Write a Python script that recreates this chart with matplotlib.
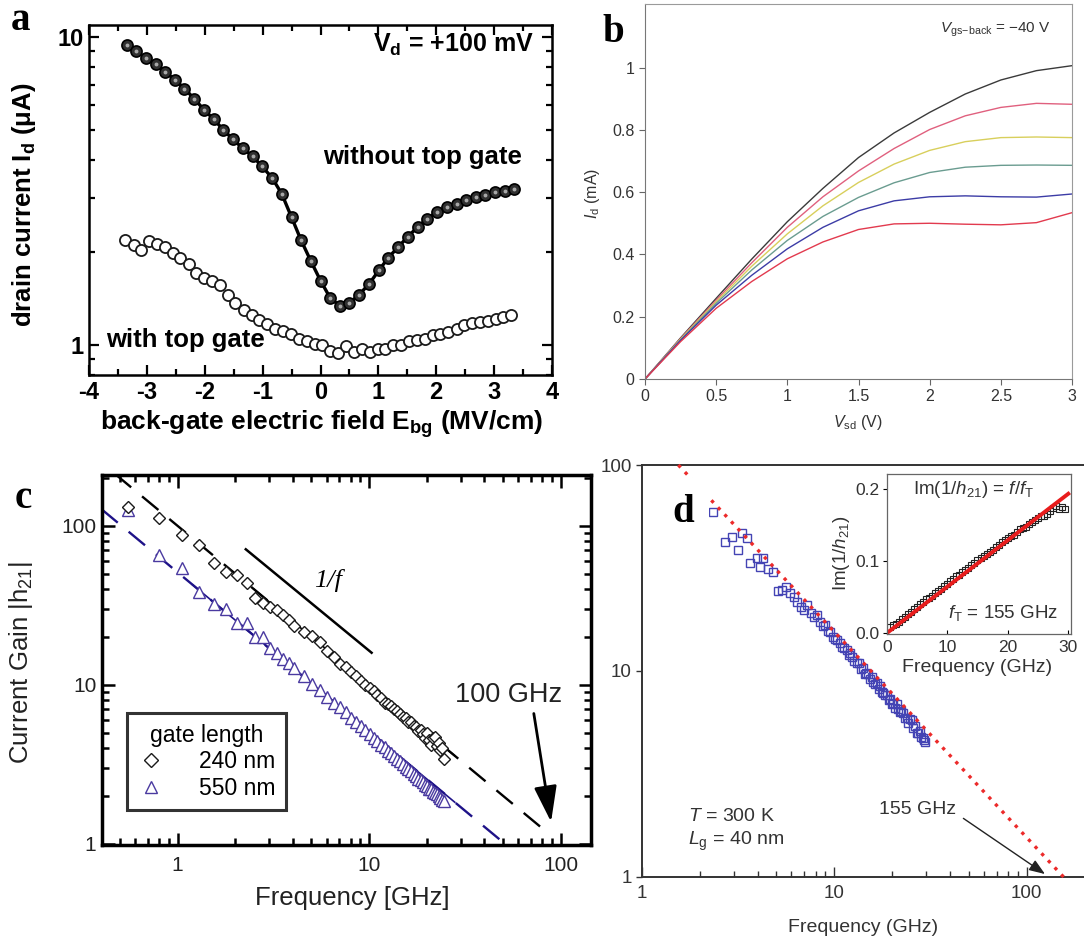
"""Four-panel figure of graphene transistor characteristics:
(a) drain current vs back-gate field, (b) output curves,
(c) and (d) current gain vs frequency with f_T extrapolation.
Saves out.png (1084 x 942 px).
"""

import matplotlib
matplotlib.use("Agg")
import matplotlib.pyplot as plt
import numpy as np
from matplotlib.lines import Line2D
from matplotlib.patches import Rectangle
from matplotlib.ticker import LogLocator, MultipleLocator, NullFormatter, NullLocator

W, H = 1084, 942

plt.rcParams.update({
    "font.family": "Liberation Sans",
    "mathtext.fontset": "custom",
    "mathtext.rm": "Liberation Sans",
    "mathtext.it": "Liberation Sans:italic",
    "mathtext.bf": "Liberation Sans:bold",
    "axes.unicode_minus": False,
})

# ---- panel a: drain current vs back-gate field ----
a_no_gate_e = [-3.35, -3.18, -3.02, -2.85, -2.68, -2.51, -2.35, -2.18, -2.01, -1.84,
               -1.68, -1.51, -1.34, -1.17, -1.01, -0.84, -0.67, -0.50, -0.34, -0.17,
               0.00, 0.17, 0.34, 0.50, 0.67, 0.84, 1.01, 1.17, 1.34, 1.51,
               1.68, 1.84, 2.01, 2.18, 2.35, 2.51, 2.68, 2.85, 3.02, 3.18, 3.35]
a_no_gate_i = [9.4, 9.0, 8.55, 8.15, 7.7, 7.25, 6.8, 6.3, 5.8, 5.4,
               5.0, 4.65, 4.35, 4.1, 3.8, 3.5, 3.1, 2.6, 2.2, 1.88,
               1.62, 1.42, 1.34, 1.37, 1.46, 1.58, 1.75, 1.92, 2.08, 2.25,
               2.42, 2.57, 2.70, 2.80, 2.88, 2.96, 3.02, 3.08, 3.13, 3.17, 3.21]

a_top_gate_e = [-3.37, -3.23, -3.10, -2.96, -2.83, -2.69, -2.55, -2.42, -2.28, -2.15,
                -2.01, -1.87, -1.74, -1.60, -1.47, -1.33, -1.19, -1.06, -0.92, -0.78,
                -0.65, -0.51, -0.38, -0.24, -0.10, 0.03, 0.17, 0.31, 0.44, 0.58,
                0.71, 0.85, 0.99, 1.12, 1.26, 1.39, 1.53, 1.67, 1.80, 1.94,
                2.07, 2.21, 2.35, 2.48, 2.62, 2.75, 2.89, 3.03, 3.16, 3.30]
a_top_gate_i = [2.19, 2.11, 2.04, 2.17, 2.13, 2.08, 1.99, 1.92, 1.84, 1.72,
                1.65, 1.61, 1.57, 1.46, 1.37, 1.30, 1.25, 1.21, 1.17, 1.13,
                1.11, 1.09, 1.05, 1.03, 1.01, 1.00, 0.96, 0.94, 0.99, 0.95,
                0.975, 0.95, 0.97, 0.975, 1.00, 1.00, 1.03, 1.04, 1.05, 1.08,
                1.09, 1.10, 1.13, 1.16, 1.18, 1.19, 1.20, 1.22, 1.23, 1.25]

# ---- panel b: output characteristics ----
b_vsd = [0, 0.25, 0.5, 0.75, 1.0, 1.25, 1.5, 1.75, 2.0, 2.25, 2.5, 2.75, 3.0]
b_id = [
    [0, 0.132, 0.259, 0.385, 0.505, 0.612, 0.711, 0.790, 0.856, 0.915, 0.960, 0.990, 1.006],
    [0, 0.130, 0.253, 0.373, 0.487, 0.585, 0.668, 0.740, 0.801, 0.845, 0.872, 0.885, 0.882],
    [0, 0.128, 0.248, 0.362, 0.466, 0.556, 0.631, 0.690, 0.734, 0.762, 0.775, 0.777, 0.775],
    [0, 0.126, 0.243, 0.350, 0.445, 0.522, 0.583, 0.630, 0.663, 0.680, 0.686, 0.687, 0.686],
    [0, 0.124, 0.237, 0.333, 0.418, 0.487, 0.540, 0.572, 0.585, 0.588, 0.585, 0.584, 0.594],
    [0, 0.120, 0.227, 0.313, 0.386, 0.440, 0.480, 0.498, 0.500, 0.497, 0.495, 0.502, 0.534],
]
b_colors = ["#3a3a3a", "#e0607e", "#d8cf5c", "#6a9c90", "#3c3ca6", "#e23a4e"]

# ---- panel c: |h21| for two gate lengths ----
c_freq = [0.55, 0.80, 1.05, 1.30, 1.55, 1.80, 2.05, 2.30, 2.55, 2.80,
          3.05, 3.30, 3.55, 3.80, 4.05, 4.55, 5.05, 5.55, 6.05, 6.55,
          7.05, 7.55, 8.05, 8.55, 9.05, 9.55, 10.05, 10.55, 11.05, 11.55,
          12.05, 12.55, 13.05, 13.55, 14.05, 14.55, 15.05, 15.55, 16.05, 16.55,
          17.05, 17.55, 18.05, 18.55, 19.05, 19.55, 20.05, 20.55, 21.05, 21.55,
          22.05, 22.55, 23.05, 23.55, 24.05, 24.55]
c_gain_240 = [131, 112, 87.6, 75.8, 58.1, 51.5, 49.1, 43.5, 35.0, 32.5,
              31.0, 29.5, 27.4, 25.6, 23.5, 21.6, 20.3, 18.6, 16.4, 15.0,
              13.5, 13.0, 12.0, 11.4, 10.6, 9.9, 9.5, 9.1, 8.6, 8.3,
              7.7, 7.6, 7.4, 7.0, 6.8, 6.5, 6.3, 6.2, 5.8, 5.8,
              5.5, 5.4, 5.1, 5.2, 4.9, 4.6, 4.95, 4.5, 4.2, 4.6,
              4.7, 4.1, 4.3, 3.9, 4.0, 3.4]
c_gain_550 = [126, 65.6, 54, 38.5, 32.1, 29.8, 24.3, 24.3, 20.0, 20.0,
              17.0, 15.8, 14.6, 13.7, 12.8, 11.3, 10.1, 9.2, 8.4, 7.7,
              7.2, 6.7, 6.2, 5.85, 5.5, 5.2, 4.9, 4.65, 4.4, 4.2,
              4.05, 3.85, 3.7, 3.55, 3.4, 3.3, 3.15, 3.05, 2.95, 2.85,
              2.75, 2.68, 2.55, 2.5, 2.45, 2.35, 2.3, 2.22, 2.2, 2.12,
              2.08, 2.05, 1.98, 1.95, 1.88, 1.85]
c_ft_240 = 100   # GHz, extrapolated unity-gain frequency
c_ft_550 = 51
c_fit_span_240 = [0.47, 80]
c_fit_span_550 = [0.40, 52]
c_slope_f = [2.27, 10.3]
c_slope_g = [71.2, 15.9]

# ---- panel d: |h21| of the 40 nm device and Im(1/h21) inset ----
d_freq = [2.36, 2.71, 2.93, 3.17, 3.31, 3.51, 3.65, 3.96, 4.12, 4.28,
          4.54, 4.83, 5.12, 5.34, 5.60, 5.89, 6.15, 6.39, 6.70, 7.00,
          7.20, 7.55, 7.85, 8.11, 8.40, 8.70, 8.96, 9.25, 9.51, 9.80,
          10.1, 10.4, 10.7, 11.0, 11.3, 11.6, 11.9, 12.1, 12.4, 12.7,
          13.1, 13.4, 13.7, 14.1, 14.4, 14.7, 15.0, 15.4, 15.7, 16.0,
          16.3, 16.6, 17.0, 17.3, 17.7, 18.0, 18.4, 18.8, 19.2, 19.6,
          20.0, 20.3, 20.7, 21.1, 21.5, 21.9, 22.3, 22.9, 23.3, 23.8,
          24.3, 24.8, 25.3, 25.8, 26.3, 26.8, 27.3, 27.8, 28.3, 28.8,
          29.2, 29.6]
d_gain = [59.4, 42.4, 44.9, 38.7, 46.6, 44.1, 33.3, 35.2, 32.1, 35.2,
          31.4, 30.3, 24.3, 24.6, 25.5, 23.8, 22.8, 21.7, 20.5, 19.8,
          20.9, 19.0, 18.2, 18.7, 17.3, 16.5, 16.7, 15.6, 15.5, 14.6,
          14.3, 14.1, 13.6, 13.0, 12.9, 12.6, 12.0, 12.2, 11.7, 11.2,
          10.9, 10.9, 10.2, 10.3, 9.7, 9.73, 9.6, 9.1, 9.3, 8.8,
          8.6, 8.7, 8.2, 8.4, 7.9, 7.78, 7.6, 7.6, 7.2, 7.3,
          6.9, 6.96, 6.6, 6.9, 6.5, 6.3, 6.4, 6.22, 5.9, 5.9,
          5.6, 5.85, 5.77, 5.3, 5.4, 5.0, 4.98, 5.1, 4.75, 4.7,
          4.6, 4.53]
d_ft = 155  # GHz
d_fit_span = [1.55, 163]

inset_freq = [0.5, 1.0, 1.5, 2.0, 2.5, 3.0, 3.5, 4.0, 4.5, 5.0,
              5.5, 6.0, 6.5, 7.0, 7.5, 8.0, 8.5, 9.0, 9.5, 10.0,
              10.5, 11.0, 11.5, 12.0, 12.5, 13.0, 13.5, 14.0, 14.5, 15.0,
              15.5, 16.0, 16.5, 17.0, 17.5, 18.0, 18.5, 19.0, 19.5, 20.0,
              20.5, 21.0, 21.5, 22.0, 22.5, 23.0, 23.5, 24.0, 24.5, 25.0,
              25.5, 26.0, 26.5, 27.0, 27.5, 28.0, 28.5, 29.0, 29.5]
inset_im = [0.008, 0.011, 0.013, 0.016, 0.020, 0.023, 0.026, 0.030, 0.033, 0.036,
            0.040, 0.043, 0.047, 0.049, 0.052, 0.056, 0.059, 0.062, 0.066, 0.069,
            0.072, 0.075, 0.079, 0.081, 0.085, 0.088, 0.091, 0.095, 0.097, 0.101,
            0.104, 0.107, 0.110, 0.113, 0.116, 0.119, 0.122, 0.126, 0.129, 0.132,
            0.135, 0.137, 0.140, 0.144, 0.146, 0.148, 0.151, 0.154, 0.157, 0.160,
            0.163, 0.163, 0.166, 0.170, 0.174, 0.176, 0.173, 0.175, 0.172]
inset_fit_span = [0, 30]


def box(left, right, top, bottom):
    """Axes rectangle from pixel edges (origin top-left)."""
    return [left / W, 1 - bottom / H, (right - left) / W, (bottom - top) / H]


def ftext(x, y, s, **kw):
    return fig.text(x / W, 1 - y / H, s, **kw)


fig = plt.figure(figsize=(W / 100, H / 100), dpi=100)

# ----------------------------------------------------------------- panel a
ax = fig.add_axes(box(89, 552, 25, 375))
ax.plot(a_top_gate_e, a_top_gate_i, "o", ms=8.0, mfc="white", mec="#1a1a1a", mew=1.3)
ax.plot(a_no_gate_e, a_no_gate_i, "-", color="black", lw=2.4)
ax.plot(a_no_gate_e, a_no_gate_i, "o", ms=8.0, mfc="#303030", mec="black", mew=1.2)
ax.plot(a_no_gate_e, a_no_gate_i, "o", ms=2.8, mfc="#a8a8a8", mec="none")
ax.set_yscale("log")
ax.set_xlim(-4, 4)
ax.set_ylim(0.8, 10.94)
ax.xaxis.set_major_locator(MultipleLocator(1))
ax.xaxis.set_minor_locator(MultipleLocator(0.5))
ax.set_yticks([1, 10], ["1", "10"])
ax.yaxis.set_minor_locator(LogLocator(subs=np.arange(2, 10)))
ax.yaxis.set_minor_formatter(NullFormatter())
ax.tick_params(which="both", direction="in", top=True, right=True, width=1.6,
               labelsize=17)
ax.tick_params(which="major", length=7)
ax.tick_params(which="minor", length=4)
ax.tick_params(axis="x", pad=4)
ax.tick_params(axis="y", pad=4)
for lbl in ax.get_xticklabels() + ax.get_yticklabels():
    lbl.set_fontweight("bold")
for sp in ax.spines.values():
    sp.set_linewidth(1.8)
ax.text(0.96, 0.943, r"V$_\mathbf{d}$ = +100 mV", transform=ax.transAxes,
        ha="right", va="center", fontsize=18, fontweight="bold")
ax.text(0.72, 0.623, "without top gate", transform=ax.transAxes,
        ha="center", va="center", fontsize=18.5, fontweight="bold")
ax.text(0.036, 0.10, "with top gate", transform=ax.transAxes,
        ha="left", va="center", fontsize=18.5, fontweight="bold")
ftext(24, 205, r"drain current I$_\mathbf{d}$ (μA)", rotation=90,
      ha="center", va="center", fontsize=18.5, fontweight="bold")
ftext(322, 424, r"back-gate electric field E$_\mathbf{bg}$ (MV/cm)",
      ha="center", va="center", fontsize=19, fontweight="bold")

# ----------------------------------------------------------------- panel b
ax = fig.add_axes(box(645, 1072, 4, 379))
for curve, col in zip(b_id, b_colors):
    ax.plot(b_vsd, curve, color=col, lw=1.0)
ax.set_xlim(0, 3)
ax.set_ylim(0, 1.204)
ax.set_xticks([0, 0.5, 1, 1.5, 2, 2.5, 3], ["0", "0.5", "1", "1.5", "2", "2.5", "3"])
ax.set_yticks([0, 0.2, 0.4, 0.6, 0.8, 1.0], ["0", "0.2", "0.4", "0.6", "0.8", "1"])
ax.tick_params(direction="out", length=4, width=0.8, color="#666666",
               labelcolor="#333333", labelsize=11.5)
for name, sp in ax.spines.items():
    sp.set_linewidth(0.8)
    sp.set_color("#777777" if name in ("left", "bottom") else "#9a9a9a")
ax.text(0.82, 0.93, r"$V_\mathrm{gs\!-\!back}$ = −40 V", transform=ax.transAxes,
        ha="center", va="center", fontsize=11, color="#333333")
ftext(593, 193, r"$I_\mathrm{d}$ (mA)", rotation=90, ha="center", va="center",
      fontsize=11.5, color="#333333")
ftext(858, 423, r"$V_\mathrm{sd}$ (V)", ha="center", va="center",
      fontsize=11.5, color="#333333")

# ----------------------------------------------------------------- panel c
ax = fig.add_axes(box(102, 591, 475, 845))
ax.set_xscale("log")
ax.set_yscale("log")
ax.set_xlim(0.403, 144)
ax.set_ylim(0.98, 209)

fit_240 = np.array(c_fit_span_240, dtype=float)
fit_550 = np.array(c_fit_span_550, dtype=float)
ax.plot(fit_240, c_ft_240 / fit_240, color="black", lw=1.7, dashes=(9, 6))
ax.plot(fit_550, c_ft_550 / fit_550, color="#1e1288", lw=1.7, dashes=(9, 6))
ax.plot([2.5, 28], [c_ft_240 / 2.5, c_ft_240 / 28], color="black", lw=1.2)
ax.plot([1.2, 28], [c_ft_550 / 1.2, c_ft_550 / 28], color="#1e1288", lw=1.2)
ax.plot(c_slope_f, c_slope_g, color="black", lw=1.8)
ax.plot(c_freq, c_gain_550, "^", ms=8, mfc="white", mec="#4a3aa0", mew=1.0)
ax.plot(c_freq, c_gain_240, "D", ms=6.3, mfc="white", mec="#1a1a1a", mew=1.0)

ax.text(6.13, 45.6, "1/f", fontfamily="Liberation Serif", style="italic",
        fontsize=19, ha="center", va="center")
ax.text(53.7, 8.6, "100 GHz", fontsize=19.5, ha="center", va="center", color="#222222")
ax.annotate("", xy=(89.1, 1.37), xytext=(72.4, 6.59),
            arrowprops=dict(arrowstyle="-|>,head_length=1.1,head_width=0.35",
                            lw=2, color="black", mutation_scale=20,
                            shrinkA=0, shrinkB=0))

handles = [Line2D([], [], ls="none", marker="D", ms=7.5, mfc="white", mec="#1a1a1a", mew=1.0),
           Line2D([], [], ls="none", marker="^", ms=9, mfc="white", mec="#4a3aa0", mew=1.0)]
leg = ax.legend(handles, ["240 nm", "550 nm"], title="gate length",
                loc="lower left", bbox_to_anchor=(0.051, 0.095), frameon=True,
                fancybox=False, edgecolor="black", fontsize=16.5, title_fontsize=16.5,
                handlelength=1.2, handletextpad=1.5, borderpad=0.45,
                labelspacing=0.15, borderaxespad=0)
leg.get_frame().set_linewidth(2.2)

ax.xaxis.set_minor_locator(LogLocator(subs=np.arange(2, 10)))
ax.yaxis.set_minor_locator(LogLocator(subs=np.arange(2, 10)))
ax.xaxis.set_minor_formatter(NullFormatter())
ax.yaxis.set_minor_formatter(NullFormatter())
ax.set_xticks([1, 10, 100], ["1", "10", "100"])
ax.set_yticks([1, 10, 100], ["1", "10", "100"])
ax.tick_params(which="both", direction="in", top=True, right=True, width=1.8,
               labelsize=15, labelcolor="#222222")
ax.tick_params(which="major", length=9)
ax.tick_params(which="minor", length=5)
ax.tick_params(axis="x", pad=8)
ax.tick_params(axis="y", pad=4)
for sp in ax.spines.values():
    sp.set_linewidth(2.5)
ftext(21, 663, r"Current Gain |h$_{21}$|", rotation=90, ha="center", va="center",
      fontsize=18.5, color="#222222")
ftext(352, 898, "Frequency [GHz]", ha="center", va="center", fontsize=18.5,
      color="#222222")

# ----------------------------------------------------------------- panel d
ax = fig.add_axes(box(641.7, 1084, 465, 876.7))
ax.set_xscale("log")
ax.set_yscale("log")
ax.set_xlim(1, 198.5)
ax.set_ylim(1, 100)
fit_d = np.array(d_fit_span, dtype=float)
ax.plot(fit_d, d_ft / fit_d, color="#ec2a2a", lw=2.4, dashes=(1, 1.9),
        clip_on=False, zorder=3)
ax.plot(d_freq, d_gain, "s", ms=6.4, mfc="none", mec="#4444b4", mew=1.0, zorder=2)
ax.spines["right"].set_visible(False)
for name in ("left", "bottom", "top"):
    ax.spines[name].set_linewidth(1.4)
    ax.spines[name].set_color("#333333")
ax.set_xticks([1, 10, 100], ["1", "10", "100"])
ax.set_yticks([1, 10, 100], ["1", "10", "100"])
ax.xaxis.set_minor_locator(LogLocator(subs=np.arange(2, 10)))
ax.xaxis.set_minor_formatter(NullFormatter())
ax.yaxis.set_minor_locator(NullLocator())
ax.tick_params(axis="x", which="both", direction="in", width=1.0, color="#333333",
               labelsize=13.5, labelcolor="#333333", pad=6)
ax.tick_params(axis="x", which="major", length=7)
ax.tick_params(axis="x", which="minor", length=4)
ax.tick_params(axis="y", which="major", direction="out", length=4, width=1.0,
               color="#333333", labelsize=13.5, labelcolor="#333333", pad=3)
ax.text(0.105, 0.147, "$T$ = 300 K", transform=ax.transAxes, fontsize=14,
        color="#333333", ha="left", va="center")
ax.text(0.105, 0.086, r"$L_\mathrm{g}$ = 40 nm", transform=ax.transAxes, fontsize=14,
        color="#333333", ha="left", va="center")
ax.text(0.624, 0.163, "155 GHz", transform=ax.transAxes, fontsize=14,
        color="#333333", ha="center", va="center")
ax.annotate("", xy=(124.5, 1.03), xytext=(46.9, 1.92),
            arrowprops=dict(arrowstyle="-|>,head_length=0.8,head_width=0.3",
                            lw=1.0, color="#222222", mutation_scale=12,
                            shrinkA=0, shrinkB=0))
ftext(863, 927, "Frequency (GHz)", ha="center", va="center", fontsize=14,
      color="#333333")

# inset: Im(1/h21) against frequency
axi = fig.add_axes(box(886.7, 1070.7, 474, 634.3))
fit_i = np.array(inset_fit_span, dtype=float)
axi.plot(inset_freq, inset_im, "s", ms=4.2, mfc="none", mec="#222222", mew=0.8)
axi.plot(fit_i, fit_i / d_ft, color="#e81c1c", lw=2.8)
axi.set_xlim(0, 30.4)
axi.set_ylim(-0.0015, 0.221)
axi.set_xticks([0, 10, 20, 30], ["0", "10", "20", "30"])
axi.set_yticks([0.0, 0.1, 0.2], ["0.0", "0.1", "0.2"])
axi.tick_params(axis="x", direction="in", length=3, width=0.8, labelsize=12.5,
                labelcolor="#333333", pad=4)
axi.tick_params(axis="y", direction="out", length=3, width=0.8, labelsize=12.5,
                labelcolor="#333333", pad=2)
for sp in axi.spines.values():
    sp.set_linewidth(0.9)
    sp.set_color("#666666")
axi.text(0.47, 0.905, r"Im(1/$h_{21}$) = $f$/$f_\mathrm{T}$", transform=axi.transAxes,
         ha="center", va="center", fontsize=13.5, color="#333333")
axi.text(0.634, 0.131, r"$f_\mathrm{T}$ = 155 GHz", transform=axi.transAxes,
         ha="center", va="center", fontsize=13.5, color="#333333")
ftext(977, 668, "Frequency (GHz)", ha="center", va="center", fontsize=14,
      color="#333333")
ftext(842, 553, r"Im(1/$h_{21}$)", rotation=90, ha="center", va="center",
      fontsize=13.5, color="#333333")

# ----------------------------------------------------------------- panel letters
fig.add_artist(Rectangle((652 / W, 1 - 527 / H), 57 / W, 49 / H,
                         transform=fig.transFigure, facecolor="white",
                         edgecolor="none", zorder=5))
for letter, (x, y) in {"a": (21, 21), "b": (613, 33), "c": (23, 499), "d": (683, 513)}.items():
    ftext(x, y, letter, ha="center", va="center", fontsize=28, fontweight="bold",
          fontfamily="Liberation Serif", zorder=6)

fig.savefig("out.png", dpi=100)
